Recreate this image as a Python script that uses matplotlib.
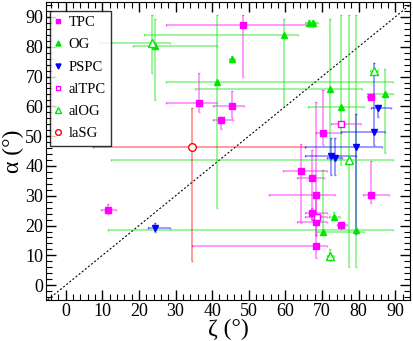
import numpy as np
import matplotlib
matplotlib.use("Agg")
import matplotlib.pyplot as plt
from matplotlib.ticker import MultipleLocator

plt.rcParams['font.family'] = ['Liberation Serif', 'DejaVu Serif']

# each series: centre (x, y) and error bar limits (lo/hi) in degrees
tpc_x = [48.4, 36.5, 45.4, 42.4, 11.5, 83.3, 70.3, 64.4, 67.3, 68.3, 67.3, 68.3, 68.3, 75.3, 83.3]
tpc_y = [87.3, 61.2, 60.1, 55.4, 25.1, 63.2, 51.2, 38.3, 36.1, 30.1, 24.2, 21.2, 13.0, 20.1, 30.1]
tpc_xlo = [27.3, 27.3, 40.3, 40.3, 9.5, 82.2, 68.3, 59.3, 63.3, 55.4, 65.4, 63.3, 34.4, 74.0, 81.2]
tpc_xhi = [65.6, 41.4, 48.6, 45.6, 13.7, 84.2, 75.3, 71.5, 70.6, 73.5, 71.4, 71.4, 71.4, 76.7, 88.4]
tpc_ylo = [70.0, 58.2, 56.0, 52.4, 23.9, 62.5, 47.0, 21.0, 22.0, 17.0, 22.0, 17.0, 9.2, 19.0, 27.6]
tpc_yhi = [90.5, 71.2, 65.2, 56.4, 27.2, 64.3, 65.5, 47.3, 45.4, 61.3, 26.0, 30.0, 17.0, 21.0, 41.5]

og_x = [24.4, 41.4, 59.5, 66.4, 67.5, 45.4, 72.3, 75.3, 87.3, 79.3, 70.3, 73.3]
og_y = [80.2, 68.1, 84.1, 88.0, 88.0, 75.8, 65.8, 59.9, 64.0, 18.6, 17.7, 22.9]
og_xlo = [18.5, 27.3, 21.5, 65.4, 66.5, 44.5, 35.2, 66.3, 82.2, 11.5, 68.5, 72.0]
og_xhi = [41.4, 89.3, 63.4, 68.3, 69.0, 46.3, 81.0, 81.4, 89.3, 89.3, 81.5, 74.8]
og_ylo = [62.3, 26.0, 60.1, 86.5, 86.5, 74.8, 42.0, 40.4, 44.3, 6.2, 17.7, 21.8]
og_yhi = [89.4, 90.5, 89.4, 89.1, 89.1, 76.8, 89.4, 90.5, 72.4, 90.5, 38.5, 24.5]

pspc_x = [84.2, 85.4, 79.2, 72.5, 73.5, 24.4]
pspc_y = [51.5, 59.5, 46.5, 43.5, 42.7, 19.2]
pspc_xlo = [75.1, 83.3, 65.4, 65.4, 71.5, 22.4]
pspc_xhi = [87.3, 88.9, 86.5, 79.4, 75.5, 28.5]
pspc_ylo = [47.1, 56.5, 17.2, 37.0, 37.0, 17.7]
pspc_yhi = [74.4, 60.4, 57.3, 49.3, 49.3, 20.7]

altpc_x = [75.3, 68.5]
altpc_y = [54.1, 23.0]
altpc_xlo = [72.4, 65.4]
altpc_xhi = [80.6, 71.5]
altpc_ylo = [53.5, 22.3]
altpc_yhi = [54.7, 23.7]

alog_x = [23.5, 77.4, 84.2, 72.3]
alog_y = [81.3, 42.0, 71.9, 9.9]
alog_xlo = [9.4, 12.4, 83.2, 71.3]
alog_xhi = [28.5, 89.3, 85.2, 73.3]
alog_ylo = [71.2, 6.0, 71.0, 8.0]
alog_yhi = [90.5, 90.5, 72.7, 12.3]

lasg_x = [34.4]
lasg_y = [46.2]
lasg_xlo = [7.4]
lasg_xhi = [65.4]
lasg_ylo = [8.0]
lasg_yhi = [59.3]

series = [
    ("TPC", tpc_x, tpc_y, tpc_xlo, tpc_xhi, tpc_ylo, tpc_yhi, "#ff00ff", "s", True, 4),
    ("OG", og_x, og_y, og_xlo, og_xhi, og_ylo, og_yhi, "#00e600", "^", True, 4.8),
    ("PSPC", pspc_x, pspc_y, pspc_xlo, pspc_xhi, pspc_ylo, pspc_yhi, "#0000ff", "v", True, 4.8),
    ("alTPC", altpc_x, altpc_y, altpc_xlo, altpc_xhi, altpc_ylo, altpc_yhi, "#ff00ff", "s", False, 4.5),
    ("alOG", alog_x, alog_y, alog_xlo, alog_xhi, alog_ylo, alog_yhi, "#00e600", "^", False, 5.5),
    ("laSG", lasg_x, lasg_y, lasg_xlo, lasg_xhi, lasg_ylo, lasg_yhi, "#ff0000", "o", False, 5.5),
]

fig = plt.figure(figsize=(4.14, 3.41), dpi=100)
ax = fig.add_axes([0.111, 0.12, 0.879, 0.874])

ax.plot([-10, 100], [-10, 100], color="black", lw=0.8, ls=(0, (1.8, 1.8)), zorder=1)

for name, x, y, xlo, xhi, ylo, yhi, col, mk, filled, ms in series:
    x = np.array(x); y = np.array(y)
    xerr = [x - np.array(xlo), np.array(xhi) - x]
    yerr = [y - np.array(ylo), np.array(yhi) - y]
    ax.errorbar(x, y, xerr=xerr, yerr=yerr, fmt="none", ecolor=col, elinewidth=1.1,
                alpha=0.5, capsize=1, zorder=2)
    ax.plot(x, y, ls="none", marker=mk, ms=ms, color=col,
            mfc=col if filled else "white", mec=col, mew=1.0, label=name, zorder=3)

ax.set_xlim(-5.4, 94)
ax.set_ylim(-5, 95)
ax.xaxis.set_major_locator(MultipleLocator(10))
ax.yaxis.set_major_locator(MultipleLocator(10))
ax.xaxis.set_minor_locator(MultipleLocator(2))
ax.yaxis.set_minor_locator(MultipleLocator(2))
ax.tick_params(which="both", direction="in", top=True, right=True, labelsize=13, pad=2)
ax.tick_params(which="major", length=7, width=1)
ax.tick_params(which="minor", length=4, width=0.8)

ax.set_xlabel("ζ (°)", fontsize=17, labelpad=-1)
ax.set_ylabel("α (°)", fontsize=17, labelpad=1)

leg = ax.legend(loc="upper left", fontsize=10.5, frameon=True, fancybox=False,
                edgecolor="black", handlelength=0.4, handletextpad=0.5,
                labelspacing=0.62, borderpad=0.35, borderaxespad=0.3,
                markerscale=0.75, bbox_to_anchor=(0.0, 0.985))
leg.get_frame().set_linewidth(1.0)

fig.savefig("out.png", dpi=100)
